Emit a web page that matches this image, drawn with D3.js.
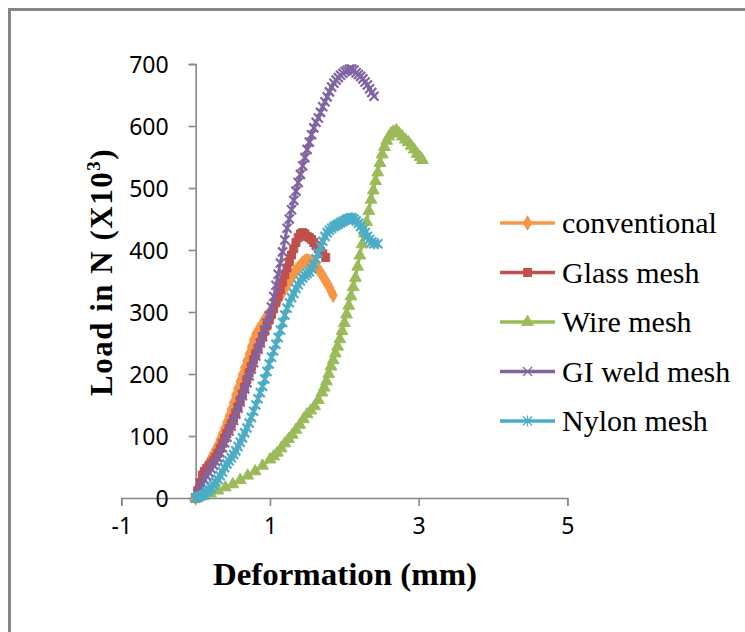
<!DOCTYPE html>
<html><head><meta charset="utf-8">
<script src="https://cdn.jsdelivr.net/npm/d3@7"></script>
<style>body{margin:0;background:#fff}svg{display:block}</style>
</head><body>
<svg id="chart" width="745" height="632"></svg>
<script>
const seriesNames = ["conventional","Glass mesh","Wire mesh","GI weld mesh","Nylon mesh"];
const xTicks = [-1,1,3,5];
const yTicks = [0,100,200,300,400,500,600,700];

const conventional = [[0,0],[0.03,8],[0.06,18],[0.09,28],[0.12,38],[0.15,48],[0.18,57],[0.21,64],[0.24,71],[0.27,78],[0.3,85],[0.33,94],[0.36,103],[0.39,112],[0.42,122],[0.45,132],[0.48,143],[0.51,154],[0.54,166],[0.57,177],[0.6,188],[0.63,199],[0.66,210],[0.69,221],[0.72,232],[0.75,244],[0.78,255],[0.81,264],[0.84,270],[0.87,276],[0.9,282],[0.93,288],[0.96,293],[0.99,298],[1.02,303],[1.05,309],[1.08,314],[1.11,320],[1.14,326],[1.17,332],[1.2,338],[1.23,344],[1.26,350],[1.29,356],[1.32,362],[1.35,367],[1.38,371],[1.41,375],[1.44,379],[1.47,382],[1.5,383],[1.53,382],[1.56,380],[1.59,377],[1.62,373],[1.65,369],[1.68,364],[1.71,358],[1.74,352],[1.77,346],[1.8,340],[1.83,332],[1.85,327]];
const glassMesh = [[0,0],[0.03,12],[0.06,25],[0.09,37],[0.12,43],[0.15,48],[0.18,52],[0.21,56],[0.24,60],[0.27,66],[0.3,72],[0.33,80],[0.36,88],[0.39,96],[0.42,104],[0.45,112],[0.48,120],[0.51,128],[0.54,137],[0.57,147],[0.6,158],[0.63,168],[0.66,179],[0.69,191],[0.72,202],[0.75,212],[0.78,223],[0.81,233],[0.84,242],[0.87,251],[0.9,260],[0.93,269],[0.96,278],[0.99,287],[1.02,296],[1.05,305],[1.08,315],[1.11,325],[1.14,336],[1.17,348],[1.2,360],[1.23,371],[1.26,381],[1.29,392],[1.32,402],[1.35,412],[1.38,420],[1.41,426],[1.44,428],[1.47,426],[1.5,422],[1.53,420],[1.56,417],[1.59,412],[1.62,407],[1.65,402],[1.68,398],[1.71,394],[1.75,388]];
const wireMesh = [[0,0],[0.1,3],[0.2,7],[0.3,12],[0.4,17],[0.5,22],[0.6,29],[0.7,36],[0.8,43],[0.9,52],[1.0,62],[1.05,67],[1.1,73],[1.15,80],[1.2,88],[1.25,95],[1.3,102],[1.35,110],[1.4,118],[1.45,127],[1.5,135],[1.55,141],[1.6,148],[1.65,158],[1.7,170],[1.73,178],[1.76,188],[1.79,200],[1.82,212],[1.85,222],[1.88,233],[1.91,244],[1.94,256],[1.97,269],[2.0,282],[2.03,296],[2.06,310],[2.09,325],[2.12,340],[2.15,355],[2.18,373],[2.21,391],[2.24,409],[2.27,427],[2.3,445],[2.33,463],[2.36,481],[2.39,496],[2.42,511],[2.45,525],[2.48,540],[2.51,554],[2.54,566],[2.57,576],[2.6,583],[2.63,588],[2.66,591],[2.7,593],[2.74,588],[2.78,583],[2.82,578],[2.86,574],[2.9,568],[2.94,562],[2.98,555],[3.02,550],[3.05,545]];
const giWeldMesh = [[0,0],[0.03,7],[0.06,15],[0.09,23],[0.12,29],[0.15,35],[0.18,41],[0.21,47],[0.24,53],[0.27,59],[0.3,65],[0.33,73],[0.36,81],[0.39,89],[0.42,98],[0.45,108],[0.48,116],[0.51,125],[0.54,135],[0.57,145],[0.6,155],[0.63,165],[0.66,176],[0.69,186],[0.72,197],[0.75,208],[0.78,218],[0.81,229],[0.84,240],[0.87,250],[0.9,260],[0.93,271],[0.96,282],[0.99,294],[1.02,308],[1.05,325],[1.08,343],[1.11,361],[1.14,379],[1.17,397],[1.2,416],[1.23,435],[1.26,450],[1.29,465],[1.32,480],[1.35,495],[1.38,509],[1.41,522],[1.44,536],[1.47,549],[1.5,562],[1.53,574],[1.56,586],[1.59,597],[1.62,606],[1.65,613],[1.68,622],[1.71,631],[1.74,639],[1.77,647],[1.8,655],[1.83,663],[1.86,669],[1.89,674],[1.92,678],[1.95,682],[1.98,685],[2.01,688],[2.04,690],[2.07,692],[2.1,692],[2.13,690],[2.16,686],[2.19,683],[2.22,680],[2.25,676],[2.28,671],[2.31,666],[2.34,660],[2.37,654],[2.4,648]];
const nylonMesh = [[0,0],[0.03,1],[0.06,3],[0.09,4],[0.12,6],[0.15,10],[0.18,13],[0.21,16],[0.24,21],[0.27,26],[0.3,30],[0.33,36],[0.36,42],[0.39,49],[0.42,55],[0.45,60],[0.48,65],[0.51,70],[0.54,76],[0.57,83],[0.6,90],[0.63,97],[0.66,105],[0.69,113],[0.72,121],[0.75,130],[0.78,140],[0.81,150],[0.84,160],[0.87,170],[0.9,180],[0.93,192],[0.96,204],[0.99,216],[1.02,227],[1.05,237],[1.08,248],[1.11,259],[1.14,271],[1.17,283],[1.2,295],[1.23,306],[1.26,315],[1.29,323],[1.32,330],[1.35,338],[1.38,344],[1.41,350],[1.44,355],[1.47,359],[1.5,362],[1.53,365],[1.56,370],[1.59,377],[1.62,386],[1.65,395],[1.68,405],[1.71,414],[1.74,422],[1.77,428],[1.8,432],[1.83,435],[1.86,438],[1.89,440],[1.92,442],[1.95,444],[1.98,446],[2.01,448],[2.04,450],[2.07,451],[2.1,452],[2.13,450],[2.16,447],[2.19,443],[2.22,438],[2.25,433],[2.28,428],[2.31,422],[2.34,417],[2.37,413],[2.4,410],[2.45,410]];

const seriesData = [conventional, glassMesh, wireMesh, giWeldMesh, nylonMesh];
const colors = ["#F79646","#C0504D","#9BBB59","#8064A2","#4BACC6"];
const markers = ["diamond","square","triangle","x","star"];

const svg = d3.select("#chart");
svg.append("rect").attr("x",9.5).attr("y",9.5).attr("width",800).attr("height",700)
  .attr("fill","none").attr("stroke","#868686").attr("stroke-width",3);

const x = d3.scaleLinear().domain([-1,5]).range([121.3,567.3]);
const y = d3.scaleLinear().domain([0,700]).range([498,64]);

const axisColor = "#868686";
const gx = svg.append("g").attr("transform",`translate(0,${y(0)})`)
  .call(d3.axisBottom(x).tickValues(xTicks).tickSize(8).tickPadding(8).tickFormat(d=>String(d)));
const gy = svg.append("g").attr("transform",`translate(${x(0)},0)`)
  .call(d3.axisLeft(y).tickValues(yTicks).tickSize(7).tickPadding(20).tickFormat(d=>String(d)));
[gx,gy].forEach(g=>{
  g.select(".domain").attr("stroke",axisColor).attr("stroke-width",1.6);
  g.selectAll(".tick line").attr("stroke",axisColor).attr("stroke-width",1.6);
  g.selectAll(".tick text").attr("fill","#000").style("font-family","'Noto Sans', sans-serif").style("font-size","23px");
});
gx.selectAll(".tick text").attr("dy","0.85em");
gy.selectAll(".tick text").attr("dy","0.36em");

function markerPath(type){
  if(type==="diamond") return d3.symbol().type(d3.symbolDiamond).size(60)();
  if(type==="square") return d3.symbol().type(d3.symbolSquare).size(64)();
  if(type==="triangle") return d3.symbol().type(d3.symbolTriangle).size(60)();
  if(type==="x") return "M-4.5,-4.5L4.5,4.5M-4.5,4.5L4.5,-4.5";
  if(type==="star") return "M-4.5,-4.5L4.5,4.5M-4.5,4.5L4.5,-4.5M0,-5.5L0,5.5";
}
function drawMarker(g, type, color, small){
  const p = g.append("path").attr("d", markerPath(type));
  if(type==="x"||type==="star") p.attr("fill","none").attr("stroke",color).attr("stroke-width",small?1.2:2.2);
  else p.attr("fill",color).attr("stroke",color).attr("stroke-width",1);
  return p;
}

const line = d3.line().x(d=>x(d[0])).y(d=>y(d[1]));
seriesData.forEach((data,i)=>{
  const g = svg.append("g");
  g.append("path").datum(data).attr("d",line).attr("fill","none")
    .attr("stroke",colors[i]).attr("stroke-width",3).attr("stroke-linejoin","round");
  data.forEach(d=>{
    const mg = g.append("g").attr("transform",`translate(${x(d[0])},${y(d[1])})`);
    drawMarker(mg, markers[i], colors[i], false);
  });
});

const legendY0 = 223, legendStep = 49.5;
seriesNames.forEach((name,i)=>{
  const ly = legendY0 + i*legendStep;
  svg.append("line").attr("x1",500).attr("x2",555).attr("y1",ly).attr("y2",ly)
    .attr("stroke",colors[i]).attr("stroke-width",3.5);
  const mg = svg.append("g").attr("transform",`translate(527.5,${ly})`);
  drawMarker(mg, markers[i], colors[i], true);
  svg.append("text").attr("x",562).attr("y",ly+10).text(name)
    .style("font-family","'Liberation Serif', serif").style("font-size","30px").attr("fill","#000");
});

svg.append("text").attr("x",213).attr("y",585).attr("textLength",264).attr("lengthAdjust","spacingAndGlyphs")
  .style("font-family","'Liberation Serif', serif").style("font-size","31px").style("font-weight","bold")
  .text("Deformation (mm)");
const yt = svg.append("text").attr("transform","translate(112,272) rotate(-90)").attr("text-anchor","middle")
  .style("font-family","'Liberation Serif', serif").style("font-size","31px").style("font-weight","bold")
  .style("letter-spacing","1.5px");
yt.append("tspan").text("Load in N (X10");
yt.append("tspan").text("3").style("font-size","19px").attr("dy","-12");
yt.append("tspan").text(")").attr("dy","12");
</script>
</body></html>
